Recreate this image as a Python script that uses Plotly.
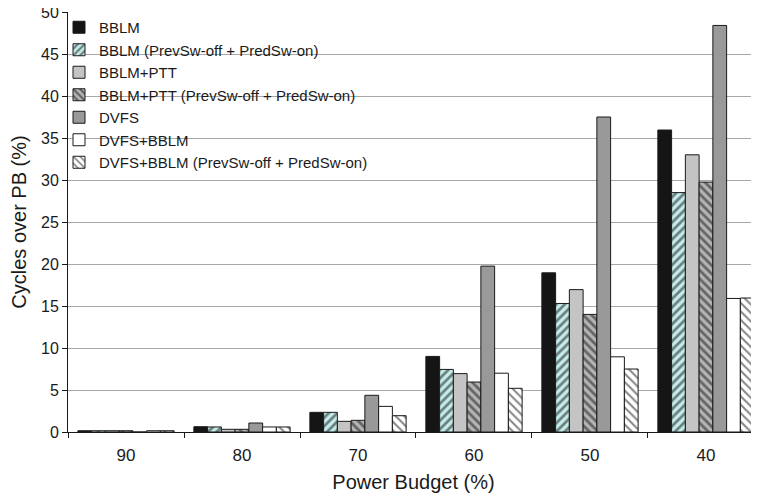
import plotly.graph_objects as go

categories = ["90", "80", "70", "60", "50", "40"]
series_names = [
    "BBLM",
    "BBLM (PrevSw-off + PredSw-on)",
    "BBLM+PTT",
    "BBLM+PTT (PrevSw-off + PredSw-on)",
    "DVFS",
    "DVFS+BBLM",
    "DVFS+BBLM (PrevSw-off + PredSw-on)",
]
bblm = [0.15, 0.63, 2.34, 9.0, 18.95, 35.95]
bblm_prev = [0.15, 0.6, 2.34, 7.45, 15.3, 28.5]
bblm_ptt = [0.15, 0.32, 1.27, 6.95, 16.95, 33.0]
bblm_ptt_prev = [0.15, 0.32, 1.39, 5.95, 14.0, 29.75]
dvfs = [0.0, 1.07, 4.37, 19.75, 37.5, 48.4]
dvfs_bblm = [0.15, 0.6, 3.05, 7.0, 8.95, 15.9]
dvfs_bblm_prev = [0.15, 0.6, 1.94, 5.2, 7.5, 15.95]

values = [bblm, bblm_prev, bblm_ptt, bblm_ptt_prev, dvfs, dvfs_bblm, dvfs_bblm_prev]

styles = [
    dict(color="#151515", pattern=None),
    dict(color="#c4ecea", pattern=dict(shape="/", fgcolor="#111111", bgcolor="#c4ecea", size=6, solidity=0.45)),
    dict(color="#c4c4c4", pattern=None),
    dict(color="#b4b4b4", pattern=dict(shape="\\", fgcolor="#111111", bgcolor="#b4b4b4", size=6, solidity=0.45)),
    dict(color="#999999", pattern=None),
    dict(color="#ffffff", pattern=None),
    dict(color="#ffffff", pattern=dict(shape="\\", fgcolor="#111111", bgcolor="#ffffff", size=6, solidity=0.35)),
]

fig = go.Figure()
for name, vals, st in zip(series_names, values, styles):
    marker = dict(color=st["color"], line=dict(color="#1a1a1a", width=1))
    if st["pattern"] is not None:
        marker["pattern"] = st["pattern"]
    fig.add_trace(go.Bar(name=name, x=categories, y=vals, marker=marker))

font_family = "Liberation Sans, Arial, sans-serif"

# the page body has an 8px margin, so the figure is sized to end at the window edge
W, H = 751, 490
L, R, T, B = 60, 0, 4, 66
PW, PH = W - L - R, H - T - B

fig.update_layout(
    width=W,
    height=H,
    margin=dict(l=L, r=R, t=T, b=B, autoexpand=False),
    paper_bgcolor="white",
    plot_bgcolor="white",
    barmode="group",
    bargap=0.17,
    bargroupgap=0,
    font=dict(family=font_family, color="#1a1a1a", size=15),
    showlegend=True,
    legend=dict(
        x=(51 - L) / PW, y=1 + 1 / PH,
        xanchor="left", yanchor="top",
        bgcolor="rgba(0,0,0,0)",
        borderwidth=0,
        font=dict(size=15, family=font_family, color="#1a1a1a"),
        tracegroupgap=0,
        itemwidth=30,
    ),
    xaxis=dict(
        type="category",
        range=[-0.5, 5.457],
        tickson="boundaries",
        ticks="outside",
        ticklen=5,
        tickcolor="#1a1a1a",
        showline=True,
        linecolor="#1a1a1a",
        linewidth=1,
        showgrid=False,
        tickfont=dict(size=17),
        ticklabelstandoff=8,
        title=dict(text="Power Budget (%)", font=dict(size=20), standoff=10),
    ),
    yaxis=dict(
        range=[0, 50],
        tick0=0,
        dtick=5,
        ticks="outside",
        ticklen=5,
        tickcolor="#1a1a1a",
        showline=True,
        linecolor="#1a1a1a",
        linewidth=1,
        showgrid=True,
        gridcolor="#a8a8a8",
        gridwidth=1,
        zeroline=False,
        tickfont=dict(size=16),
        ticklabeloverflow="allow",
        title=dict(text="Cycles over PB (%)", font=dict(size=20), standoff=9),
    ),
)

fig.write_html("out.html")
